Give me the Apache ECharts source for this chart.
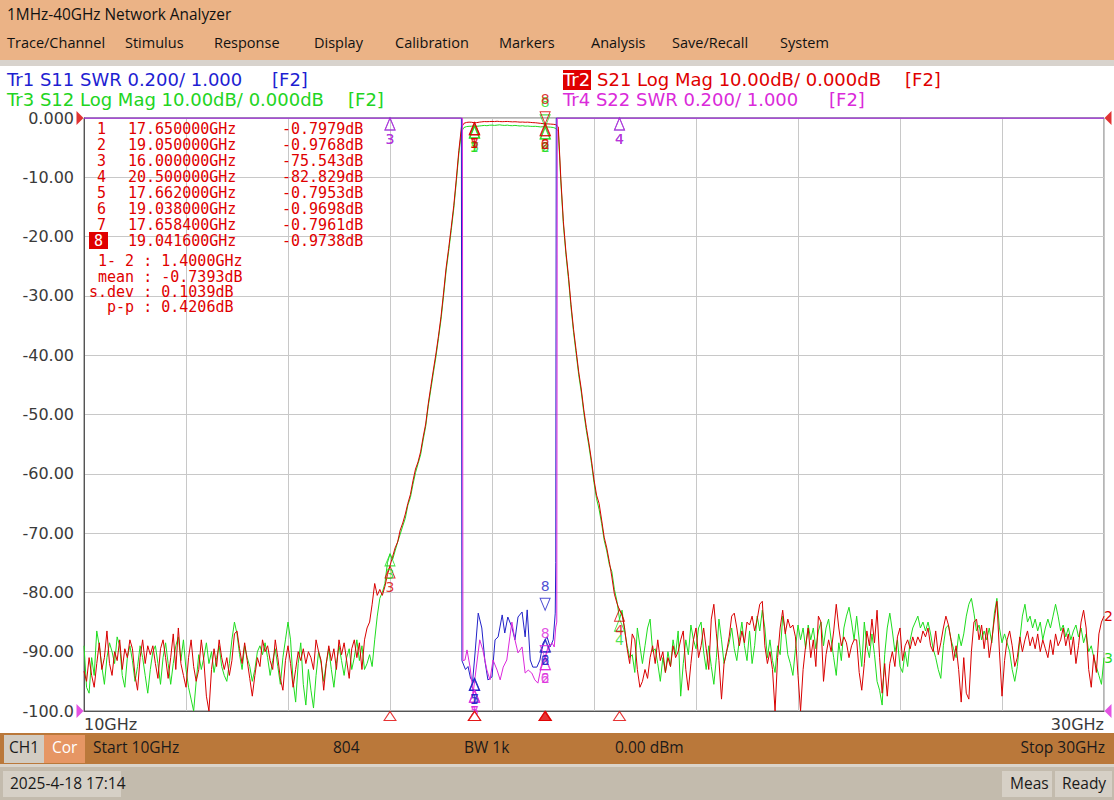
<!DOCTYPE html>
<html>
<head>
<meta charset="utf-8">
<script src="https://cdn.jsdelivr.net/npm/echarts@6/dist/echarts.min.js"></script>
<style>
  html,body{margin:0;padding:0;}
  body{width:1114px;height:800px;overflow:hidden;position:relative;background:#fff;font-family:"Open Sans","Noto Sans",sans-serif;}
  #chart{position:absolute;left:0;top:0;width:1114px;height:800px;}
  .a{position:absolute;white-space:pre;line-height:1;}
  #topbar{position:absolute;left:0;top:0;width:1114px;height:60px;background:#EBB386;}
  #strip{position:absolute;left:0;top:60px;width:1114px;height:6px;background:#D8D3CD;}
  #status{position:absolute;left:0;top:733px;width:1114px;height:31px;background:#BA783A;}
  #strip2{position:absolute;left:0;top:764px;width:1114px;height:3px;background:#DAD4CB;}
  #bottom{position:absolute;left:0;top:767px;width:1114px;height:33px;background:#C3BBAD;}
  .menu{font-size:14.5px;color:#111;top:36px;}
  .st{font-size:15.5px;color:#1a1a1a;top:740px;}
  .hdr{font-family:"DejaVu Sans",sans-serif;font-size:18px;}
  .mk{font-family:"DejaVu Sans Mono",monospace;font-size:15px;color:#E00000;}
  .box{position:absolute;background:#D6D0C6;}
</style>
</head>
<body>
<div id="chart"></div>

<div id="topbar"></div>
<div id="strip"></div>
<div class="a" style="left:7px;top:7px;font-size:15.4px;color:#111;">1MHz-40GHz Network Analyzer</div>
<div class="a menu" style="left:7px;">Trace/Channel</div>
<div class="a menu" style="left:125px;">Stimulus</div>
<div class="a menu" style="left:214px;">Response</div>
<div class="a menu" style="left:314px;">Display</div>
<div class="a menu" style="left:395px;">Calibration</div>
<div class="a menu" style="left:499px;">Markers</div>
<div class="a menu" style="left:591px;">Analysis</div>
<div class="a menu" style="left:672px;">Save/Recall</div>
<div class="a menu" style="left:780px;">System</div>

<div class="a hdr" style="left:7px;top:71px;color:#1E1ED2;">Tr1 S11 SWR 0.200/ 1.000</div>
<div class="a hdr" style="left:272px;top:71px;color:#1E1ED2;">[F2]</div>
<div class="a hdr" style="left:7px;top:91px;color:#22D422;">Tr3 S12 Log Mag 10.00dB/ 0.000dB</div>
<div class="a hdr" style="left:348px;top:91px;color:#22D422;">[F2]</div>
<div class="a hdr" style="left:563px;top:70px;width:28px;height:20px;background:#E00000;"></div>
<div class="a hdr" style="left:563px;top:71px;color:#fff;">Tr2</div>
<div class="a hdr" style="left:597px;top:71px;color:#E00000;">S21 Log Mag 10.00dB/ 0.000dB</div>
<div class="a hdr" style="left:905px;top:71px;color:#E00000;">[F2]</div>
<div class="a hdr" style="left:563px;top:91px;color:#DA2ADA;">Tr4 S22 SWR 0.200/ 1.000</div>
<div class="a hdr" style="left:829px;top:91px;color:#DA2ADA;">[F2]</div>

<div id="mtable"></div>

<div id="status"></div>
<div class="box" style="left:4px;top:735px;width:40px;height:28px;background:#D2CCC2;"></div>
<div class="box" style="left:44px;top:735px;width:41px;height:28px;background:#E69664;"></div>
<div class="a st" style="left:9px;">CH1</div>
<div class="a st" style="left:52px;color:#fff;">Cor</div>
<div class="a st" style="left:93px;">Start 10GHz</div>
<div class="a st" style="left:333px;">804</div>
<div class="a st" style="left:464px;">BW 1k</div>
<div class="a st" style="left:615px;">0.00 dBm</div>
<div class="a st" style="right:9px;">Stop 30GHz</div>
<div id="strip2"></div>
<div id="bottom"></div>
<div class="box" style="left:3px;top:771px;width:118px;height:26px;"></div>
<div class="box" style="left:1002px;top:771px;width:50px;height:26px;"></div>
<div class="box" style="left:1055px;top:771px;width:57px;height:26px;"></div>
<div class="a st" style="left:10px;top:776px;">2025-4-18 17:14</div>
<div class="a st" style="left:1010px;top:776px;">Meas</div>
<div class="a st" style="left:1062px;top:776px;">Ready</div>

<script>
// ---------------- sweep ----------------
const sweepStart = 10;   // GHz
const sweepStep = 0.05;  // GHz
const sweepStop = 30;

// ---------------- Tr2 S21 (dB), 10.00 .. 15.55 GHz ----------------
const s21Left = [
 -93.3,-95,-91,-94,-96,-92,-88.5,-93,-91,-86.5,
 -92,-94,-90,-91.5,-88,-93,-89.5,-91,-88,-89.5,
 -94,-96.5,-91,-88,-92,-89,-90.5,-89,-92,-94.5,
 -89.5,-88,-91,-94.5,-91,-87,-93,-86,-92,-94,
 -96,-91,-88,-92.5,-95,-93,-88,-91.5,-97.5,-100,
 -93,-89.5,-92.5,-88,-91,-93,-91,-94,-91.5,-87,
 -86.5,-89.5,-92,-88.5,-91.5,-94.5,-97.5,-94,-91,-92.5,
 -88,-90,-89,-91.5,-93,-88,-91,-94.5,-96.5,-91.5,
 -89,-92,-96,-93,-90,-91.5,-89.5,-92,-90,-91,
 -93,-88,-90,-91.5,-96.5,-92,-89,-91.5,-89.5,-93,
 -88,-90.5,-88.5,-91.5,-94.5,-89.5,-88,-91,-88.5,-93,
 -88,-86
];
// 15.60 .. 20.50 GHz
const s21Band = [
 -85,-82,-78.5,-80.5,-79.5,-80.5,-79,-77,-75.5,-74,
 -72.5,-71.5,-69.5,-68.3,-66.8,-65,-63.5,-61.2,-59.2,-58,
 -56.3,-53.8,-51.6,-48.2,-45.3,-42.5,-39.8,-36.8,-33.5,-29.5,
 -25.3,-22,-18.5,-14.8,-10.3,-5.5,-1.6,-0.9,-0.75,-0.7,
 -0.72,-0.8,-0.78,-0.7,-0.65,-0.6,-0.62,-0.6,-0.58,-0.6,
 -0.55,-0.6,-0.62,-0.6,-0.58,-0.62,-0.65,-0.63,-0.66,-0.7,
 -0.68,-0.72,-0.7,-0.74,-0.78,-0.8,-0.85,-0.9,-0.95,-0.98,
 -1.0,-1.03,-1.06,-1.12,-1.5,-10.3,-17.5,-22.6,-26.7,-31.5,
 -35.7,-39.2,-42.8,-45.7,-49.2,-52.2,-54.8,-57.7,-61,-63.6,
 -65,-67.8,-70.7,-72.5,-74.8,-77.4,-80.3,-81.8,-83
];
// 20.55 .. 30.00 GHz
const s21Right = [
 -83.7,-86,-89.5,-92,-87,-88,-93,-96,-95,-93,
 -94.5,-91,-89,-92,-88,-91.5,-90,-93.5,-91,-92.5,
 -89,-91,-90,-88,-86.5,-93,-96.5,-92,-88,-86,
 -91,-89,-86,-89.5,-93,-84.5,-82,-87,-91.5,-98,
 -92,-90,-87.5,-84,-83.5,-86,-89,-86.5,-88.5,-85,
 -85.5,-84,-86.5,-84.5,-82,-81.5,-89,-92,-90,-93,
 -100,-91,-86,-83,-87,-84.5,-86,-85.5,-87.5,-94,
 -100,-93,-89,-86,-91,-88,-92.5,-84,-85,-95,
 -90.5,-88,-90,-86.5,-82,-86,-89,-87.5,-88.5,-91,
 -89,-88,-88,-93.5,-96.5,-92,-86.5,-89,-84.5,-88.5,
 -83,-91,-97,-92,-97.5,-92,-90,-92.5,-87.5,-86,
 -91.5,-89,-88,-89.5,-87.5,-89,-87.5,-88.5,-86.5,-87.5,
 -86,-89,-90,-86.5,-90.5,-88.5,-86,-84,-85.5,-88,
 -91.5,-89,-93,-98.5,-91,-97,-98,-90,-85,-84.5,
 -88,-85.5,-89.5,-86,-91,-88,-84.5,-81.5,-90,-97.5,
 -91.5,-88,-86.5,-89,-92.5,-91,-87.5,-90,-88,-86.5,
 -89,-87.5,-89.5,-87,-90,-88,-89.5,-91,-88,-90.5,
 -87,-89,-88,-86,-89,-87,-90.5,-87.5,-92,-89,
 -85,-83,-86,-93,-96,-90.5,-93.5,-87,-85,-84
];

// ---------------- Tr3 S12 (dB) ----------------
const s12Left = [
 -89,-96,-97,-91,-94,-86.5,-89,-92.5,-95.5,-91,
 -88.5,-90,-92,-87.5,-89,-94,-96,-91,-89,-91.5,
 -95,-92.5,-89,-91,-94,-97,-93,-90,-89,-92,
 -95.5,-91,-88.5,-92,-95.5,-92,-89,-87.5,-91.5,-88,
 -93,-96,-98,-100,-95,-90.5,-93,-91,-88.5,-92,
 -90,-93.5,-91,-89,-92.5,-94,-95,-92,-88,-85,
 -87,-90.5,-93,-89,-91,-92.5,-95,-93,-90,-89,
 -90.5,-88.5,-91,-94,-91.5,-89.5,-92.5,-95.5,-91,-88,
 -85,-88,-95,-98.5,-92,-88.5,-95.5,-99,-93,-96.5,
 -99.5,-94,-90,-92,-95,-92,-89.5,-93,-96,-92,
 -89,-91.5,-94,-91,-89.5,-93,-91,-88,-91.5,-89,
 -93,-92
];
const s12Band = [
 -90.5,-92.5,-88,-84,-81,-80,-78.5,-75,-73.5,-74.5,
 -73,-71.5,-70.2,-68.8,-67.5,-65.3,-64,-61.8,-59.8,-58.3,
 -56.8,-54.3,-52,-48.6,-45.8,-43,-40.3,-37.2,-34,-30,
 -25.8,-22.5,-19,-15.3,-10.8,-6,-2.3,-1.6,-1.45,-1.4,
 -1.38,-1.35,-1.4,-1.35,-1.3,-1.25,-1.3,-1.22,-1.2,-1.25,
 -1.2,-1.15,-1.22,-1.25,-1.2,-1.28,-1.3,-1.25,-1.3,-1.35,
 -1.3,-1.38,-1.35,-1.4,-1.42,-1.4,-1.45,-1.5,-1.48,-1.5,
 -1.52,-1.55,-1.6,-1.75,-2.2,-10.8,-18,-23,-27.2,-32,
 -36.2,-39.7,-43.3,-46.2,-49.7,-52.7,-55.3,-58.2,-61.5,-64.2,
 -66,-68.4,-71.2,-73,-75.3,-76.5,-79.5,-81.5,-84.5
];
const s12Right = [
 -83,-86.5,-89,-91,-90.5,-93.5,-86,-89,-92,-89,
 -86,-84.5,-90,-89.5,-92,-95,-91,-93.5,-90,-92.5,
 -88,-90.5,-86.5,-97.5,-92,-88,-90.5,-85.5,-88,-89.5,
 -86,-85,-90,-93,-89,-92.5,-95.5,-91,-84.5,-88,
 -92,-90,-88.5,-86,-89.5,-91.5,-88,-85,-89,-91.5,
 -86.5,-92,-89,-84,-86.5,-83,-86,-91,-88,-91.5,
 -93.5,-89,-90.5,-84,-86.5,-90.5,-92,-94,-89.5,-85.5,
 -88,-86,-89.5,-85.5,-88,-86,-89.5,-86.5,-85,-89,
 -86,-84.5,-88,-91,-94,-88.5,-91.5,-86,-84,-82.5,
 -85,-88,-84,-88,-92.5,-85,-89,-91,-87,-90.5,
 -95,-96.5,-99,-90.5,-86,-83.5,-86.5,-90,-88,-92.5,
 -93.5,-90,-92.5,-88,-86,-85,-84,-86,-85,-86.5,
 -85,-87,-89.5,-91,-93,-94.5,-89,-86,-85.5,-88,
 -89.5,-91,-87,-89,-87,-84,-82,-81,-83.5,-86.5,
 -85.5,-88,-86.5,-88,-86,-88.5,-83.5,-81,-86,-88.5,
 -87,-88.5,-90,-93,-95,-92.5,-88,-84,-82,-85,
 -84,-86,-84.5,-86.5,-85,-88,-86,-84.5,-86,-84,
 -82,-84,-86.5,-85.5,-87.5,-86,-88,-86.5,-85.5,-87.5,
 -86,-88.5,-87,-90,-89,-91,-92.5,-94,-95.5,-91
];

// ---------------- Tr1 S11 / Tr4 S22 (SWR), [GHz, SWR]; 3.000 = top of screen ----------------
const s11Swr = [
 [10,3.0],[17.40,3.0],[17.41,1.17],[17.48,1.14],[17.53,1.15],[17.58,1.11],[17.62,1.10],[17.67,1.20],
 [17.73,1.33],[17.80,1.28],[17.86,1.17],[17.92,1.105],[18.00,1.115],[18.06,1.24],[18.12,1.25],
 [18.20,1.324],[18.25,1.263],[18.31,1.317],[18.39,1.283],[18.45,1.24],[18.51,1.317],[18.59,1.334],
 [18.65,1.25],[18.69,1.341],[18.75,1.172],[18.80,1.148],[18.88,1.148],[18.94,1.172],[19.00,1.229],
 [19.08,1.25],[19.14,1.216],[19.20,1.24],[19.24,1.33],[19.25,1.5],[19.26,3.0],[30,3.0]
];
const s22Swr = [
 [10,3.0],[17.42,3.0],[17.43,1.17],[17.47,1.172],[17.51,1.206],[17.57,1.148],[17.63,1.061],[17.71,1.172],
 [17.76,1.24],[17.82,1.206],[17.90,1.138],[17.96,1.105],[18.02,1.172],[18.10,1.138],[18.16,1.105],
 [18.22,1.148],[18.29,1.172],[18.35,1.25],[18.39,1.30],[18.45,1.24],[18.51,1.196],[18.59,1.216],
 [18.65,1.128],[18.71,1.138],[18.78,1.128],[18.84,1.105],[18.90,1.094],[18.98,1.162],[19.04,1.182],
 [19.10,1.216],[19.18,1.229],[19.22,1.216],[19.25,1.283],[19.27,1.30],[19.28,3.0],[30,3.0]
];

// ---------------- markers ----------------
const markerNums  = [1, 2, 3, 4, 5, 6, 7, 8];
const markerFreqs = [17.65, 19.05, 16.0, 20.5, 17.662, 19.038, 17.6584, 19.0416];
const markerS21   = [-0.7979, -0.9768, -75.543, -82.829, -0.7953, -0.9698, -0.7961, -0.9738];
const markerS12   = [-1.35, -1.5, -73.5, -84.5, -1.35, -1.5, -1.35, -1.5];
const markerS11   = [1.11, 1.24, 3.0, 3.0, 1.11, 1.24, 1.11, 1.34];
const markerS22   = [1.07, 1.18, 3.0, 3.0, 1.07, 1.18, 1.07, 1.18];
const activeMarker = 8;
const statSpan = 1.4, statMean = -0.7393, statSdev = 0.1039, statPP = 0.4206;
const refS21 = 0;     // dB reference level
const refSwr = 1.0;   // SWR reference level

// ---------------- colors ----------------
const C_RED = '#D80000', C_GRN = '#1FDC1F', C_BLU = '#2222C8', C_MAG = '#DC28DC';

// ---------------- marker table (text) ----------------
(function(){
  const t = document.getElementById('mtable');
  let h = '';
  markerNums.forEach((n, i) => {
    const top = 122 + 16 * i;
    const v = markerS21[i];
    const vs = (Math.abs(v) < 10 ? v.toFixed(4) : v.toFixed(3)) + 'dB';
    if (n === activeMarker) {
      h += `<div class="a" style="left:89px;top:${top-2}px;width:19px;height:17px;background:#E00000;"></div>`;
      h += `<div class="a mk" style="left:94px;top:${top}px;color:#fff;">${n}</div>`;
    } else {
      h += `<div class="a mk" style="left:97px;top:${top}px;">${n}</div>`;
    }
    h += `<div class="a mk" style="left:128px;top:${top}px;">${markerFreqs[i].toFixed(6)}GHz</div>`;
    h += `<div class="a mk" style="left:282px;top:${top}px;">${vs}</div>`;
  });
  const stats = [
    ' 1- 2 : ' + statSpan.toFixed(4) + 'GHz',
    ' mean : ' + statMean.toFixed(4) + 'dB',
    's.dev : ' + statSdev.toFixed(4) + 'dB',
    '  p-p : ' + statPP.toFixed(4) + 'dB'
  ];
  const tops = [254, 270, 285, 300];
  stats.forEach((s, i) => { h += `<div class="a mk" style="left:89px;top:${tops[i]}px;">${s}</div>`; });
  t.innerHTML = h;
})();

// ---------------- build series data ----------------
function sweep(vals) {
  return vals.map((v, i) => [Math.round((sweepStart + i * sweepStep) * 1000) / 1000, v]);
}
const s21 = sweep(s21Left.concat(s21Band, s21Right));
const s12 = sweep(s12Left.concat(s12Band, s12Right));

function traceSeries(name, data, color, yIdx, endText) {
  const s = {
    name, type: 'line', data, yAxisIndex: yIdx, showSymbol: false, symbol: 'none',
    lineStyle: { color, width: 1 }, itemStyle: { color }, z: 3, silent: true
  };
  if (endText) {
    s.endLabel = { show: true, formatter: endText, color, fontSize: 14,
      fontFamily: 'DejaVu Sans', distance: 0 };
  }
  return s;
}

function markerSeries(name, vals, color, yIdx) {
  return {
    name, type: 'scatter', yAxisIndex: yIdx, clip: false, z: 6, silent: true,
    symbol: 'triangle',
    data: markerFreqs.map((f, i) => {
      const active = markerNums[i] === activeMarker;
      return {
        value: [f, vals[i]], name: String(markerNums[i]),
        symbolRotate: active ? 180 : 0,
        symbolOffset: [0, active ? -6 : 6],
        label: { position: active ? 'top' : 'bottom', distance: active ? 5 : 1 }
      };
    }),
    symbolSize: [10, 12],
    itemStyle: { color: 'rgba(255,255,255,0)', borderColor: color, borderWidth: 1 },
    label: { show: true, formatter: p => p.name, color, fontSize: 14, fontFamily: 'DejaVu Sans' }
  };
}

const stimMarkers = {
  name: 'stim', type: 'scatter', yAxisIndex: 0, clip: false, z: 7, silent: true,
  symbol: 'triangle', symbolSize: [12, 9],
  data: markerFreqs.map((f, i) => {
    const active = markerNums[i] === activeMarker;
    return {
      value: [f, -100], symbolOffset: [0, 5],
      itemStyle: { color: active ? '#E00000' : '#fff', borderColor: '#E00000', borderWidth: 1 }
    };
  })
};

const refArrowsDb = {
  name: 'refdb', type: 'scatter', yAxisIndex: 0, clip: false, z: 7, silent: true,
  symbol: 'triangle', symbolSize: [14, 7],
  itemStyle: { color: C_RED },
  data: [
    { value: [sweepStart, refS21], symbolRotate: -90, symbolOffset: [-4, 0] },
    { value: [sweepStop, refS21], symbolRotate: 90, symbolOffset: [4, 0] }
  ]
};
const refArrowsSwr = {
  name: 'refswr', type: 'scatter', yAxisIndex: 1, clip: false, z: 7, silent: true,
  symbol: 'triangle', symbolSize: [14, 7],
  itemStyle: { color: C_MAG },
  data: [
    { value: [sweepStart, refSwr], symbolRotate: -90, symbolOffset: [-4, 0] },
    { value: [sweepStop, refSwr], symbolRotate: 90, symbolOffset: [4, 0] }
  ]
};

const chart = echarts.init(document.getElementById('chart'), null, { renderer: 'svg' });
chart.setOption({
  animation: false,
  backgroundColor: '#fff',
  grid: { left: 84, top: 118, width: 1020, height: 593, show: true,
          borderColor: '#6a6a6a', borderWidth: 1, backgroundColor: '#fff' },
  xAxis: {
    type: 'value', min: sweepStart, max: sweepStop, interval: 2,
    axisLine: { show: true, onZero: false, lineStyle: { color: '#555', width: 1 } },
    axisTick: { show: false },
    splitLine: { show: true, lineStyle: { color: '#c8c8c8', width: 1 } },
    axisLabel: {
      formatter: v => (v === sweepStart ? sweepStart + 'GHz' : (v === sweepStop ? sweepStop + 'GHz' : '')),
      alignMinLabel: 'left', alignMaxLabel: 'right',
      color: '#3a3a3a', fontSize: 16, fontFamily: 'DejaVu Sans', margin: 5
    }
  },
  yAxis: [
    {
      type: 'value', min: -100, max: 0, interval: 10,
      axisLine: { show: true, lineStyle: { color: '#555', width: 1 } },
      axisTick: { show: false },
      splitLine: { show: true, lineStyle: { color: '#c8c8c8', width: 1 } },
      axisLabel: {
        formatter: v => (v === 0 ? '0.000' : (v === -100 ? '-100.0' : v.toFixed(2))),
        color: '#3a3a3a', fontSize: 16, fontFamily: 'DejaVu Sans', margin: 10
      }
    },
    { type: 'value', min: 1, max: 3, show: false }
  ],
  series: [
    traceSeries('S12', s12, C_GRN, 0, '3'),
    traceSeries('S21', s21, C_RED, 0, '2'),
    traceSeries('S11', s11Swr, C_BLU, 1, null),
    traceSeries('S22', s22Swr, C_MAG, 1, null),
    markerSeries('mS12', markerS12, C_GRN, 0),
    markerSeries('mS21', markerS21, C_RED, 0),
    markerSeries('mS11', markerS11, C_BLU, 1),
    markerSeries('mS22', markerS22, C_MAG, 1),
    stimMarkers, refArrowsDb, refArrowsSwr
  ]
});
</script>
</body>
</html>
